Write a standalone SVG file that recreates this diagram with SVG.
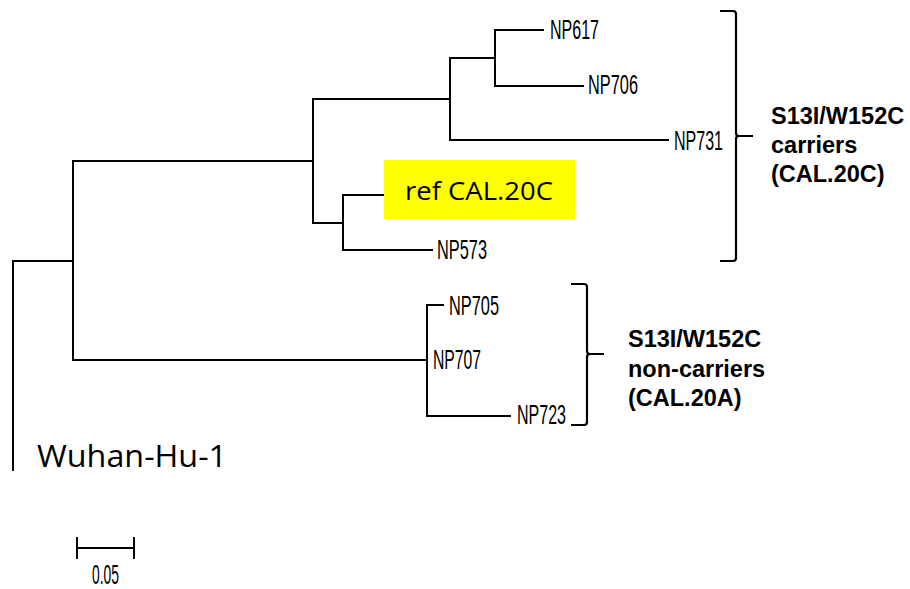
<svg xmlns="http://www.w3.org/2000/svg" width="910" height="589" viewBox="0 0 910 589">
<style>
.br{fill:none;stroke:#000;stroke-width:2;stroke-linecap:square}
.np{font-family:"Liberation Sans",Arial,sans-serif;font-size:28px;fill:#000}
.grp{font-family:"Liberation Sans",Arial,sans-serif;font-size:23.5px;font-weight:bold;fill:#000}
.cal{font-family:"Open Sans","Noto Sans",sans-serif;fill:#000}
.bk{fill:none;stroke:#000;stroke-width:2.2}
</style>
<rect width="910" height="589" fill="#fff"/>
<g id="connectors">
<path class="br" d="M13,261 V470" stroke-width="1.4"/>
<path class="br" d="M13,261 H73 M73,161 V360 M73,161 H313 M313,99 V223 M313,99 H450 M450,58 V140 M450,58 H495 M495,30 V86 M495,30 H543 M495,86 H583 M450,140 H668 M313,223 H343 M343,195 V250 M343,195 H384 M343,250 H432 M73,360 H427 M427,305 V416 M427,305 H443 M427,416 H510"/>
</g>
<g id="scale">
<path class="br" d="M77,548 H134 M77,538 V558 M134,538 V558" stroke-width="1.6"/>
<text class="np" x="92" y="584" font-size="22" textLength="27" lengthAdjust="spacingAndGlyphs">0.05</text>
</g>
<g id="NP617"><text class="np" x="550" y="39" textLength="49" lengthAdjust="spacingAndGlyphs">NP617</text></g>
<g id="NP706"><text class="np" x="588" y="94" textLength="50" lengthAdjust="spacingAndGlyphs">NP706</text></g>
<g id="NP731"><text class="np" x="674" y="150" textLength="49" lengthAdjust="spacingAndGlyphs">NP731</text></g>
<g id="refCAL20C">
<rect x="384" y="160" width="191" height="59" fill="#ffff00"/>
<text class="cal" x="405" y="200" font-size="25" textLength="148" lengthAdjust="spacingAndGlyphs">ref CAL.20C</text>
</g>
<g id="NP573"><text class="np" x="437" y="259" textLength="50" lengthAdjust="spacingAndGlyphs">NP573</text></g>
<g id="NP705"><text class="np" x="449" y="315" textLength="50" lengthAdjust="spacingAndGlyphs">NP705</text></g>
<g id="NP707"><text class="np" x="433" y="369" textLength="48" lengthAdjust="spacingAndGlyphs">NP707</text></g>
<g id="NP723"><text class="np" x="517" y="424" textLength="49" lengthAdjust="spacingAndGlyphs">NP723</text></g>
<g id="Wuhan"><text class="cal" x="37" y="467" font-size="31" textLength="190" lengthAdjust="spacingAndGlyphs">Wuhan-Hu-1</text></g>
<g id="carriers">
<path class="bk" d="M720,11 H733 Q736,11 736,14 V133 Q736,136 739,136 H753 M739,136 Q736,136 736,139 V258 Q736,261 733,261 H720"/>
<text class="grp" x="771" y="124">S13I/W152C</text>
<text class="grp" x="771" y="153">carriers</text>
<text class="grp" x="771" y="182">(CAL.20C)</text>
</g>
<g id="noncarriers">
<path class="bk" d="M571,284 H584 Q587,284 587,287 V351 Q587,354 590,354 H604 M590,354 Q587,354 587,357 V422 Q587,425 584,425 H571"/>
<text class="grp" x="628" y="347">S13I/W152C</text>
<text class="grp" x="628" y="377">non-carriers</text>
<text class="grp" x="628" y="406">(CAL.20A)</text>
</g>
</svg>
